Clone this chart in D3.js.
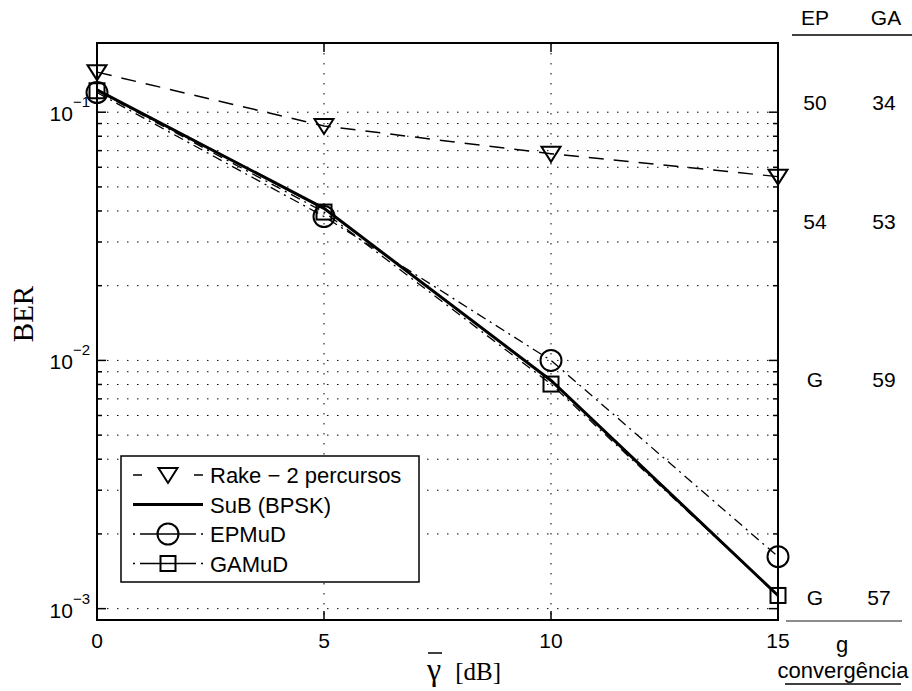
<!DOCTYPE html>
<html>
<head>
<meta charset="utf-8">
<script src="https://cdn.jsdelivr.net/npm/d3@7"></script>
<style>
  body { margin: 0; background: #fff; }
  svg text { font-family: "Liberation Sans", Arial, sans-serif; }
</style>
</head>
<body>
<svg id="chart" width="912" height="691"></svg>
<script>
// data
var snr = [0, 5, 10, 15];
var rake = [0.145, 0.088, 0.068, 0.055];
var sub = [0.123, 0.041, 0.0083, 0.00113];
var epmud = [0.12, 0.038, 0.01, 0.00162];
var gamud = [0.122, 0.0396, 0.00803, 0.00113];
var xTicks = [0, 5, 10, 15];
var yTicks = [-3, -2, -1];
var seriesNames = ["Rake \u2212 2 percursos", "SuB (BPSK)", "EPMuD", "GAMuD"];
var colHeader = ["EP", "GA"];
var colEP = ["50", "54", "G", "G"];
var colGA = ["34", "53", "59", "57"];

var margin = {top: 43, right: 134, bottom: 71, left: 97};
var svg = d3.select("#chart"),
  width = +svg.attr("width") - margin.left - margin.right,
  height = +svg.attr("height") - margin.top - margin.bottom;

var x = d3.scaleLinear().domain([0, 15]).range([0, width]);
var y = d3.scaleLog().domain([0.0009, 0.19]).range([height, 0]);

var g = svg.append("g").attr("transform", "translate(" + margin.left + "," + margin.top + ")");

// minor log positions
var minor = [];
for (var e = -4; e <= 0; e++) {
  for (var m = 1; m <= 9; m++) {
    var v = m * Math.pow(10, e);
    if (v >= y.domain()[0] && v <= y.domain()[1]) minor.push(v);
  }
}

// dotted grid
g.selectAll(".hgrid").data(minor).enter().append("line")
  .attr("x1", 0).attr("x2", width)
  .attr("y1", function(d) { return y(d); }).attr("y2", function(d) { return y(d); })
  .attr("stroke", "#000").attr("stroke-width", 1).attr("stroke-dasharray", "1.5,8.5");
g.selectAll(".vgrid").data(xTicks.slice(1, 3)).enter().append("line")
  .attr("y1", 0).attr("y2", height)
  .attr("x1", function(d) { return x(d); }).attr("x2", function(d) { return x(d); })
  .attr("stroke", "#000").attr("stroke-width", 1).attr("stroke-dasharray", "1.5,8.5");

// ticks inward on all sides
minor.forEach(function(v) {
  var major = Math.abs(Math.log10(v) - Math.round(Math.log10(v))) < 1e-9;
  var len = major ? 9 : 5;
  g.append("line").attr("x1", 0).attr("x2", len).attr("y1", y(v)).attr("y2", y(v))
    .attr("stroke", "#000").attr("stroke-width", 1.5);
  g.append("line").attr("x1", width - len).attr("x2", width).attr("y1", y(v)).attr("y2", y(v))
    .attr("stroke", "#000").attr("stroke-width", 1.5);
});
xTicks.forEach(function(v) {
  g.append("line").attr("x1", x(v)).attr("x2", x(v)).attr("y1", height).attr("y2", height - 9)
    .attr("stroke", "#000").attr("stroke-width", 1.5);
  g.append("line").attr("x1", x(v)).attr("x2", x(v)).attr("y1", 0).attr("y2", 9)
    .attr("stroke", "#000").attr("stroke-width", 1.5);
});

// frame
g.append("rect").attr("x", 0).attr("y", 0).attr("width", width).attr("height", height)
  .attr("fill", "none").attr("stroke", "#000").attr("stroke-width", 2);

// tick labels
g.selectAll(".xl").data(xTicks).enter().append("text")
  .attr("x", function(d) { return x(d); }).attr("y", height + 28)
  .attr("text-anchor", "middle").attr("font-size", 21).text(function(d) { return d; });
yTicks.forEach(function(p) {
  var t = g.append("text").attr("x", -7).attr("y", y(Math.pow(10, p)) + 9)
    .attr("text-anchor", "end").attr("font-size", 21);
  t.append("tspan").text("10");
  t.append("tspan").attr("dy", -14).attr("font-size", 15).text("\u2212" + (-p));
});

// axis labels
svg.append("text").attr("transform", "translate(33,314) rotate(-90)")
  .attr("text-anchor", "middle").style("font-family", "'Liberation Serif', 'Times New Roman', serif")
  .attr("font-size", 29).text("BER");
var xl = svg.append("text").attr("x", 427).attr("y", 680)
  .style("font-family", "'Liberation Serif', 'Times New Roman', serif");
xl.append("tspan").attr("font-size", 32).text("\u03B3");
xl.append("tspan").attr("font-size", 25).attr("dx", 14).text("[dB]");
svg.append("line").attr("x1", 428).attr("x2", 442).attr("y1", 653).attr("y2", 653)
  .attr("stroke", "#000").attr("stroke-width", 1.5);

// series
var line = d3.line().x(function(d) { return x(d[0]); }).y(function(d) { return y(d[1]); });
function pairs(vals) { return snr.map(function(s, i) { return [s, vals[i]]; }); }

var styles = [
  {vals: rake, width: 1.5, dash: "15,10", legDash: "9,52,9", marker: "tri"},
  {vals: sub, width: 3, dash: null, legDash: null, marker: null},
  {vals: epmud, width: 1.3, dash: "10,5,2,5", legDash: "2,5,56,5,2", marker: "circle"},
  {vals: gamud, width: 1.3, dash: "10,5,2,5", legDash: "2,5,56,5,2", marker: "square"}
];

function drawMarker(sel, type, cx, cy) {
  if (type === "tri") {
    sel.append("path").attr("d", "M" + (cx - 9.5) + "," + (cy - 7) + "L" + (cx + 9.5) + "," + (cy - 7) + "L" + cx + "," + (cy + 8) + "Z")
      .attr("fill", "none").attr("stroke", "#000").attr("stroke-width", 2);
  } else if (type === "circle") {
    sel.append("circle").attr("cx", cx).attr("cy", cy).attr("r", 10.5)
      .attr("fill", "none").attr("stroke", "#000").attr("stroke-width", 2);
  } else if (type === "square") {
    sel.append("rect").attr("x", cx - 7.5).attr("y", cy - 7.5).attr("width", 15).attr("height", 15)
      .attr("fill", "none").attr("stroke", "#000").attr("stroke-width", 2);
  }
}

styles.forEach(function(s) {
  var p = g.append("path").datum(pairs(s.vals)).attr("d", line)
    .attr("fill", "none").attr("stroke", "#000").attr("stroke-width", s.width);
  if (s.dash) p.attr("stroke-dasharray", s.dash);
});
styles.forEach(function(s) {
  if (!s.marker) return;
  pairs(s.vals).forEach(function(d) { drawMarker(g, s.marker, x(d[0]), y(d[1])); });
});

// legend
var lg = svg.append("g").attr("transform", "translate(121,456)");
lg.append("rect").attr("width", 298).attr("height", 126)
  .attr("fill", "#fff").attr("stroke", "#000").attr("stroke-width", 1.5);
seriesNames.forEach(function(name, i) {
  var ly = 19 + i * 29.5;
  var s = styles[i];
  var ln = lg.append("line").attr("x1", 12).attr("x2", 82).attr("y1", ly).attr("y2", ly)
    .attr("stroke", "#000").attr("stroke-width", i === 1 ? 3 : 1.5);
  if (s.legDash) ln.attr("stroke-dasharray", s.legDash);
  if (s.marker) drawMarker(lg, s.marker, 47, ly);
  lg.append("text").attr("x", 89).attr("y", ly + 8).attr("font-size", 22).text(name);
});

// convergence table at right
var colX = [815, 884];
colHeader.forEach(function(h, i) {
  svg.append("text").attr("x", colX[i] + (i === 1 ? 2 : 0)).attr("y", 25).attr("text-anchor", "middle")
    .attr("font-size", 21).text(h);
});
svg.append("line").attr("x1", 792).attr("x2", 912).attr("y1", 35).attr("y2", 35)
  .attr("stroke", "#000").attr("stroke-width", 1.5);
var rowY = [110, 229, 387, 605];
rowY.forEach(function(ry, i) {
  svg.append("text").attr("x", colX[0]).attr("y", ry).attr("text-anchor", "middle")
    .attr("font-size", 21).text(colEP[i]);
  svg.append("text").attr("x", colX[1] - (i === 3 ? 5 : 0)).attr("y", ry).attr("text-anchor", "middle")
    .attr("font-size", 21).text(colGA[i]);
});
svg.append("line").attr("x1", 786).attr("x2", 902).attr("y1", 621).attr("y2", 621)
  .attr("stroke", "#666").attr("stroke-width", 1.5);
svg.append("text").attr("x", 842).attr("y", 652).attr("text-anchor", "middle")
  .attr("font-size", 22).text("g");
svg.append("text").attr("x", 843).attr("y", 678).attr("text-anchor", "middle")
  .attr("font-size", 22).text("converg\u00eancia");
svg.append("line").attr("x1", 785).attr("x2", 901).attr("y1", 684).attr("y2", 684)
  .attr("stroke", "#000").attr("stroke-width", 1.5);
</script>
</body>
</html>
